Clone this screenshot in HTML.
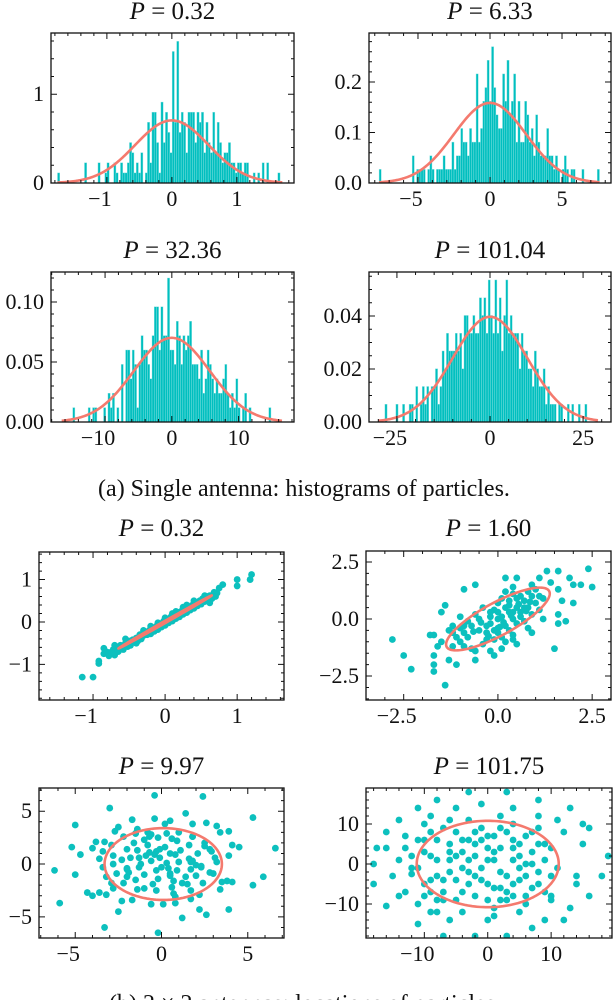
<!DOCTYPE html>
<html><head><meta charset="utf-8"><style>
html,body{margin:0;padding:0;background:#fff;}
svg{display:block;}
text{font-family:"Liberation Serif",serif;fill:#111;}
</style></head><body>
<svg id="fig" width="614" height="1000" viewBox="0 0 614 1000" xmlns="http://www.w3.org/2000/svg">
<text x="304" y="496" font-size="24" text-anchor="middle">(a) Single antenna: histograms of particles.</text>
<text x="305" y="1011" font-size="24" text-anchor="middle">(b) 2 × 2 antennas: locations of particles.</text>
</svg>
<script>
// ---------- histogram data (counts per bin) ----------
const histTitles = ["0.32","6.33","32.36","101.04"];
const histPower = [0.32, 6.33, 32.36, 101.04];
const histRange = [[-1.76,1.70],[-7.7,7.6],[-16.5,16.5],[-30,29]];
const histDensityPerCount = [0.114, 0.027, 0.012, 0.0067];
const histCounts1 = [1,0,0,0,0,0,0,0,0,0, 0,0,2,0,0,0,0,0,2,0, 0,1,2,0,0,2,1,0,2,1, 1,2,4,3,1,2,1,3,0,1, 6,2,7,7,4,1,8,4,7,5, 3,13,6,14,5,7,6,3,7,7, 7,4,7,6,7,3,6,4,3,7, 3,6,4,2,3,3,4,2,2,1, 2,2,1,2,2,0,0,1,0,1, 0,2,0,2,0,0,0,0,1,0];
const histCounts2 = [1,0,0,0,0,0,0,0,0,0, 0,0,0,0,0,2,0,1,1,1, 1,0,1,2,1,0,1,1,1,2, 1,1,1,3,1,2,2,4,3,3, 2,4,3,3,8,3,4,6,7,9, 6,10,7,5,4,4,8,6,9,5, 6,8,3,6,3,3,6,5,3,4, 2,5,3,2,2,2,4,2,2,1, 2,1,0,1,2,1,0,1,1,0, 0,0,1,0,0,0,0,0,0,1];
const histCounts3 = [0,0,0,0,0,1,0,0,0,0, 0,0,1,0,1,1,0,0,0,1, 0,2,1,2,0,1,0,4,0,5, 5,3,5,4,1,4,6,5,5,4, 3,6,8,8,5,8,6,6,10,5, 5,4,7,6,4,6,5,6,7,4, 4,4,3,5,2,3,5,4,3,2, 3,2,2,3,4,2,1,2,1,3, 1,0,1,2,0,1,0,0,0,0, 0,0,0,0,1,0,0,0,0,0];
const histCounts4 = [0,0,0,1,0,0,0,0,1,0, 0,1,0,0,1,1,0,2,0,1, 2,1,2,0,2,2,3,1,2,4, 3,5,4,4,4,5,4,5,3,6, 6,5,5,6,5,5,7,6,7,5, 8,6,5,8,5,7,4,6,8,5, 6,5,5,5,3,5,4,4,3,3, 2,4,3,2,2,3,1,2,1,1, 1,0,1,1,0,0,1,0,1,0, 0,1,0,0,1,0,0,0,0,0];
const histXTicks = [[-1,0,1],[-5,0,5],[-10,0,10],[-25,0,25]];
const histXLabels = [["−1","0","1"],["−5","0","5"],["−10","0","10"],["−25","0","25"]];
const histYTicks = [[0,1],[0,0.1,0.2],[0,0.05,0.10],[0,0.02,0.04]];
const histYLabels = [["0","1"],["0.0","0.1","0.2"],["0.00","0.05","0.10"],["0.00","0.02","0.04"]];

// ---------- scatter data (flat x,y pairs) ----------
const scatTitles = ["0.32","1.60","9.97","101.75"];
const scatPts1 = [-1.15,-1.3,-1.0,-1.3,-0.92,-0.98,-0.92,-0.92,-0.85,-0.75,-0.82,-0.7,-0.78,-0.8,-0.75,-0.72,-0.72,-0.65,-0.7,-0.78,-0.68,-0.6,-0.65,-0.7,-0.62,-0.55,-0.6,-0.62,-0.58,-0.65,-0.55,-0.5,-0.52,-0.58,-0.5,-0.45,-0.48,-0.55,-0.45,-0.42,-0.42,-0.48,-0.4,-0.38,-0.38,-0.45,-0.35,-0.3,-0.33,-0.4,-0.3,-0.32,-0.28,-0.25,-0.25,-0.3,-0.22,-0.2,-0.2,-0.28,-0.18,-0.15,-0.15,-0.22,-0.12,-0.1,-0.1,-0.18,-0.08,-0.05,-0.05,-0.12,-0.02,0.02,0,-0.08,0.02,0.05,0.05,-0.02,0.08,0.12,0.1,0.02,0.12,0.15,0.15,0.08,0.18,0.22,0.2,0.12,0.22,0.25,0.25,0.18,0.28,0.3,0.3,0.22,0.33,0.35,0.35,0.28,0.38,0.4,0.4,0.32,0.42,0.45,0.45,0.38,0.48,0.5,0.5,0.42,0.52,0.55,0.55,0.48,0.58,0.6,0.6,0.52,0.62,0.62,0.65,0.55,0.68,0.7,0.72,0.68,0.75,0.8,0.8,0.88,1.0,0.85,1.0,1.0,1.18,1.0,1.2,1.12,0.1,0.2,-0.3,-0.2,0.4,0.5,-0.55,-0.4,0.25,0.35,-0.1,-0.02,0.15,0.25,-0.4,-0.5,0.55,0.62,-0.7,-0.55,0.3,0.4,0,0.1,-0.2,-0.1,-0.85,-0.62,0.62,0.45,0.7,0.6,-0.78,-0.72];
const scatPts2 = [-2.8,-0.9,-2.5,-1.6,-2.3,-2.2,-1.4,-2.9,2.4,2.2,2.5,1.4,2.2,1.5,2.0,0.7,1.5,-1.3,1.8,-0.1,1.6,2.1,1.3,2.1,1.9,1.8,1.1,1.8,0.5,1.8,0.2,1.8,-0.6,1.5,-0.9,1.3,-1.5,0.3,-1.4,0.6,-1.7,-0.7,-1.8,-0.7,-1.6,-1.2,-1.7,-1.6,-1.7,-2.0,-1.7,-2.3,-1.3,-1.8,-1.1,-2.0,-0.6,-1.8,-0.2,-1.4,0.4,-0.9,-0.1,-1.6,0.9,-0.6,1.4,1.6,1.6,0.2,1.6,-0.2,1.7,0.8,2.0,1.5,1.6,1.3,-1.0,-1.0,-1.2,-1.2,-1.3,-0.5,-1.5,-1.0,-1.2,-0.6,-0.9,-0.3,-0.8,-0.8,-0.7,-1.3,-0.5,-0.5,-0.4,-1.1,-0.3,-0.6,-0.2,-0.2,-0.1,-0.9,0.0,-0.4,0.1,0.1,0.1,-0.8,0.2,-0.3,0.3,0.3,0.3,-0.5,0.4,0.0,0.5,0.5,0.5,-0.2,0.6,0.3,0.7,0.8,0.7,-0.1,0.8,0.5,0.9,1.0,0.9,0.2,1.0,0.7,1.1,0.4,1.2,0.9,1.2,0.0,-1.0,-0.4,-0.8,-0.1,-0.6,0.2,-0.4,0.5,-0.3,-0.3,-0.2,0.1,-0.1,0.4,0.0,0.7,0.0,0.0,0.1,0.9,0.2,0.5,0.2,1.2,0.3,0.8,0.4,1.1,0.4,0.3,0.5,0.9,0.6,1.0,0.6,0.1,0.7,0.5,0.8,1.2,0.8,-0.4,1.0,1.3,1.1,1.0,0.4,1.4,0.9,1.5,-0.5,0.0,-0.7,-0.3,-0.9,-0.6,-1.1,-0.8,-0.3,-0.9,0.0,-0.6,0.2,-1.0,0.4,-0.7,0.1,-1.3,0.5,-1.1,-0.6,-1.4,-0.9,-1.2,-0.2,0.3,0.0,0.3,0.3,0.6,-0.1,-0.5,0.15,-0.15,0.35,0.15,0.55,0.65,0.75,0.35,0.85,0.75,-0.45,-0.15,-0.65,-0.55,-0.25,-0.75,0.05,-0.35,-1.2,-0.3,-1.0,0.1];
const scatPts3 = [-6.2,-0.6,-5.9,-3.7,-5,3.7,-5.2,1.6,-5,-1,-4.7,0.9,-3.3,-6,-3,5.3,-0.4,6.5,2.4,6.4,5.3,4.4,6.6,1.5,5.9,-1.2,5.3,-2,3.9,-4.3,1.2,-5.1,-0.2,-6.5,-2.5,-4.5,2.6,-4.8,2.2,-4.3,-4.3,-2.7,-4.0,-3.0,-3.6,-2.7,-3.2,-2.9,-4.0,1.5,-3.8,2.1,-3.3,2.1,-2.7,3.1,-2.5,3.5,-1.7,4.2,-1.4,3.3,-0.4,4.3,0.2,3.8,0.5,4.1,1.4,4.8,1.8,3.8,2.6,3.9,3.2,3.6,3.4,3.0,3.9,3.1,4.1,1.8,4.5,1.6,3.9,0.8,4.1,-1.7,3.8,-1.6,3.5,-1.7,3.4,-2.4,2.2,-2.9,1.7,-3.3,0.8,-3.7,0.1,-3.8,-0.6,-3.8,-1.7,-3.4,-2.3,-3.5,-2.8,-2.3,-3.2,-1.2,-3.4,-0.3,-3.6,0.5,-3.4,1.2,-2.9,1.8,-2.2,2.6,-1.5,2.9,-0.8,3.0,0.3,2.9,1.0,3.0,1.8,2.6,2.5,2.0,2.9,1.2,3.2,0.2,2.8,-0.8,2.4,-1.8,1.7,-2.5,0.7,-2.8,-0.3,-2.5,-1.4,-2.4,-2.2,-1.8,-2.6,-0.9,-2.8,0.0,-2.0,1.4,-1.6,2.0,-1.0,2.3,-0.2,2.5,0.9,2.2,1.6,1.8,2.1,1.0,2.3,-0.2,2.0,-1.1,1.5,-1.9,0.6,-2.2,-0.5,-1.9,-1.5,-1.5,-2.0,-0.5,-1.8,0.6,-1.4,1.3,-0.8,1.8,0.2,1.6,1.1,1.3,1.6,0.5,1.7,-0.5,1.4,-1.2,0.7,-1.6,-0.2,-1.4,-1.0,-1.0,-1.2,0.0,-0.9,0.8,-0.3,1.2,0.5,1.0,1.0,0.2,0.9,-0.6,0.5,-0.9,-0.3,-0.6,-0.6,0.3,-0.1,0.6,0.3,0.1,0.0,-0.3,-0.4,0.9,0.8,0.9,0.4,-0.4,-0.7,1.1,-1.3,0.6,-2.0,-0.4,-2.3,0.4,1.2,-1.8,2.8,1.4,2.3,-0.3,-1.5,2.9,0.6,2.4,-0.6,2.8,1.8,0.3,-1.3,-0.3,1.7,0.2,-1.0,-2.3,-2.8,0.8,-2.0,-1.2,2.0,-0.1,-0.1,1.4,3.1,0.6,-2.9,-1.8,0.8,-3.1,2.5,1.7,-1.9,-0.8,-0.7,2.6,3.0,-0.9,1.8,2.6,0.5,-1.1];
const scatPts4 = [-17.5,4,-18,0,-18,-5,-16,-10.5,-16,8,-14,11,-13,-7,-13,4,-12,-2.5,-11,-15,-11,-10,-11,14,-10,-5,-9,8,-8,-12,-8,16,-7,-18,-6,-14,-5,14,-3,18,-2,-18,0,-14,1,-13,2,12,3,18,3,-18,4,14,5,-12,7,-16,8,16,9,-14,10,-9,11,11,12,-14,12,8,13,14,13,-11,14,-5,15,5,16,-8,16,9,18,-3,19,2,-15,-3,-14,1,-9,-12,-9,12,-7,-9,-6,11,-4,-12,-3,11,-1,15,1,-11,4,10,6,-10,8,12,-11,6,-12,-1,-10,-8,-10,3,-9,-4,-9,2,-8,6,-8,-3,-7,-7,-6,5,-6,1,-5,-4,-5,8,-4,3,-4,-7,-3,-2,-3,6,-2,-8,-2,2,-1,9,-1,-4,0,4,0,-9,1,1,1,7,2,-6,2,4,3,-3,3,8,4,1,4,-8,5,5,5,-4,6,0,6,7,7,-6,7,3,8,-2,8,5,9,-7,9,1,10,-3,10,4,-11,-1,-10,6,-9,-7,-8,1,-7,9,-6,-2,-5,-9,-4,6,-3,-5,-2,8,-1,-1,0,1,1,-6,2,9,3,-9,4,4,5,-1,6,-8,7,8,8,-5,9,5,-6,3,-4,-1,-2,5,0,-5,2,-2,4,6,6,-3,-3,1,1,3,3,-7,-1,6,5,2,-7,-4,7,0,-2,-3,2,-9,-5,2,0,7,4,-5,-8,-9,8,9,-10,10,10,-8,-13,7,14,-3,-14,-8,15,10,-16,4,11,-1,-12,2];
const scatXTicks = [[-1,0,1],[-2.5,0,2.5],[-5,0,5],[-10,0,10]];
const scatXLabels = [["−1","0","1"],["−2.5","0.0","2.5"],["−5","0","5"],["−10","0","10"]];
const scatYTicks = [[-1,0,1],[-2.5,0,2.5],[-5,0,5],[-10,0,10]];
const scatYLabels = [["−1","0","1"],["−2.5","0.0","2.5"],["−5","0","5"],["−10","0","10"]];
// ellipse: cx, cy, semi-major, semi-minor, angle(deg)
const ellipseCenterX = [0, 0, 0.1, 0];
const ellipseCenterY = [0, 0, 0, 0];
const ellipseMajor = [0.9, 1.85, 3.4, 11.2];
const ellipseMinor = [0.02, 0.6, 3.4, 10.8];
const ellipseAngle = [44, 45, 0, 0];

// ---------- layout ----------
const NS = "http://www.w3.org/2000/svg";
const svg = document.getElementById("fig");
const CYAN = "#00BFBF", SALMON = "#F47A6E";
function mk(tag, attrs, parent){const e=document.createElementNS(NS,tag);for(const k in attrs)e.setAttribute(k,attrs[k]);(parent||svg).appendChild(e);return e;}

const histLayout = [
  {box:[51,33,294,183], xd:[-1.86,1.88], yd:[0,1.69], minorX:0.2, minorY:0.2, ty:19},
  {box:[369,33,611,183], xd:[-8.4,8.4], yd:[0,0.297], minorX:1, minorY:0.02, ty:19},
  {box:[51,272,294,422], xd:[-18.1,18.3], yd:[0,0.125], minorX:2, minorY:0.01, ty:258},
  {box:[369,272,611,422], xd:[-32.5,32.5], yd:[0,0.0566], minorX:5, minorY:0.005, ty:258}
];
const scatLayout = [
  {box:[39,552,284,700], xd:[-1.75,1.65], yd:[-1.84,1.65], minorX:0.2, minorY:0.2, ty:536},
  {box:[366,551,611,700], xd:[-3.5,3.0], yd:[-3.55,2.98], minorX:0.5, minorY:0.5, ty:536},
  {box:[39,788,284,938], xd:[-7.1,7.1], yd:[-7.0,7.2], minorX:1, minorY:1, ty:774},
  {box:[366,788,612,938], xd:[-19.2,19.6], yd:[-18.5,19], minorX:2, minorY:2, ty:774}
];

function axes(L, idx, kind){
  const [x0,y0,x1,y1]=L.box;
  const sx=v=>x0+(v-L.xd[0])/(L.xd[1]-L.xd[0])*(x1-x0);
  const sy=v=>y1-(v-L.yd[0])/(L.yd[1]-L.yd[0])*(y1-y0);
  const g=mk("g",{});
  
  
  const clipId="clip"+kind+idx;
  const cp=mk("clipPath",{id:clipId},g);
  mk("rect",{x:x0,y:y0,width:x1-x0,height:y1-y0},cp);
  const plot=mk("g",{"clip-path":"url(#"+clipId+")"},g);
  
  
  return {g,plot,sx,sy,x0,y0,x1,y1};
}
function frame(A, L, xt, xl, yt, yl, title, idx, kind){
  const {g,sx,sy,x0,y0,x1,y1}=A;
  let d="";
  const eps=1e-9;
  for(let v=Math.ceil(L.xd[0]/L.minorX)*L.minorX; v<=L.xd[1]+eps; v+=L.minorX){const x=sx(v).toFixed(2);d+=`M${x} ${y1}v-3M${x} ${y0}v3`;}
  for(let v=Math.ceil(L.yd[0]/L.minorY)*L.minorY; v<=L.yd[1]+eps; v+=L.minorY){const y=sy(v).toFixed(2);d+=`M${x0} ${y}h3M${x1} ${y}h-3`;}
  xt.forEach(v=>{const x=sx(v).toFixed(2);d+=`M${x} ${y1}v-6M${x} ${y0}v6`;});
  yt.forEach(v=>{const y=sy(v).toFixed(2);d+=`M${x0} ${y}h6M${x1} ${y}h-6`;});
  const tk=mk("path",{d:d,stroke:"#111","stroke-width":1,fill:"none"},g);
  
  
  const fr=mk("rect",{x:x0,y:y0,width:x1-x0,height:y1-y0,fill:"none",stroke:"#111","stroke-width":1.3},g);
  
  
  xt.forEach((v,i)=>{
    const neg=xl[i].startsWith("−");
    const t=mk("text",{x:sx(v)-(neg?7:0),y:y1+23,"text-anchor":"middle","font-size":22},g);
    t.textContent=xl[i];
    
    });
  yt.forEach((v,i)=>{
    const t=mk("text",{x:x0-7,y:sy(v)+7,"text-anchor":"end","font-size":22},g);
    t.textContent=yl[i];
    
    });
  const tt=mk("text",{x:(x0+x1)/2,y:L.ty,"text-anchor":"middle","font-size":25},g);
  
  
  const ts=mk("tspan",{"font-style":"italic"},tt);ts.textContent="P";
  const ts2=mk("tspan",{},tt);ts2.textContent=" = "+title;
}

const histCounts=[histCounts1,histCounts2,histCounts3,histCounts4];
histLayout.forEach((L,k)=>{
  const A=axes(L,k,"hist");
  const c=histCounts[k], [lo,hi]=histRange[k], bw=(hi-lo)/c.length;
  c.forEach((n,i)=>{
    if(!n) return;
    const xa=A.sx(lo+i*bw), xb=A.sx(lo+(i+1)*bw), yt=A.sy(n*histDensityPerCount[k]);
    const r=mk("rect",{x:xa,y:yt,width:Math.max(0.5,xb-xa),height:A.y1-yt,fill:CYAN,stroke:"#8fe3e3","stroke-width":0.4},A.plot);
    
    
  });
  const s=Math.sqrt(histPower[k]); let d="";
  for(let j=0;j<=200;j++){const x=lo+(hi-lo)*j/200; const y=Math.exp(-x*x/(2*s*s))/(s*Math.sqrt(2*Math.PI)); d+=(j?"L":"M")+A.sx(x).toFixed(2)+" "+A.sy(y).toFixed(2);}
  const p=mk("path",{d:d,fill:"none",stroke:SALMON,"stroke-width":2.6},A.plot);
  
  
  frame(A,L,histXTicks[k],histXLabels[k],histYTicks[k],histYLabels[k],histTitles[k],k,"hist");
});

const scatPts=[scatPts1,scatPts2,scatPts3,scatPts4];
scatLayout.forEach((L,k)=>{
  const A=axes(L,k,"scatter");
  const P=scatPts[k];
  for(let i=0;i+1<P.length;i+=2){
    const c=mk("circle",{cx:A.sx(P[i]),cy:A.sy(P[i+1]),r:3.4,fill:"#0CC0BE"},A.plot);
    
    
  }
  const a=ellipseMajor[k], b=ellipseMinor[k], th=ellipseAngle[k]*Math.PI/180; let d="";
  for(let j=0;j<=200;j++){const t=2*Math.PI*j/200; const u=a*Math.cos(t), v=b*Math.sin(t);
    const x=ellipseCenterX[k]+u*Math.cos(th)-v*Math.sin(th), y=ellipseCenterY[k]+u*Math.sin(th)+v*Math.cos(th);
    d+=(j?"L":"M")+A.sx(x).toFixed(2)+" "+A.sy(y).toFixed(2);}
  const e=mk("path",{d:d+"Z",fill:"none",stroke:SALMON,"stroke-width":2.6},A.plot);
  
  
  frame(A,L,scatXTicks[k],scatXLabels[k],scatYTicks[k],scatYLabels[k],scatTitles[k],k,"scatter");
});
</script>
</body></html>
